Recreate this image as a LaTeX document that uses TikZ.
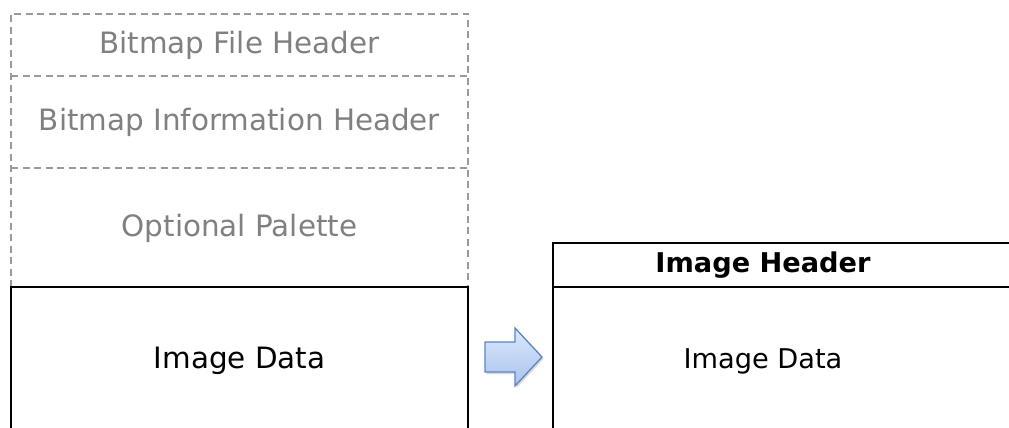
\documentclass[tikz,border=0pt]{standalone}
\usepackage{fontspec}
\setmainfont{DejaVu Sans}
\usetikzlibrary{shadows}
\definecolor{lblgray}{HTML}{808080}
\definecolor{dashgray}{HTML}{9A9A9A}
\definecolor{arrowedge}{HTML}{5A86C3}
\definecolor{arrowtop}{HTML}{DCE8FB}
\definecolor{arrowbot}{HTML}{A8C3EE}
\tikzset{
  optline/.style={draw=dashgray, line width=1.6pt, dash pattern=on 7pt off 4.5pt},
  databox/.style={draw=black, line width=1.6pt},
  lbl/.style={font=\fontsize{29.4}{34}\selectfont},
  rlbl/.style={font=\fontsize{27.2}{32}\selectfont},
  rhead/.style={font=\fontsize{27.2}{32}\selectfont\bfseries},
}
\begin{document}
\begin{tikzpicture}[x=1pt,y=-1pt]
\useasboundingbox (0,0) rectangle (1009,428);
\clip (0,0) rectangle (1009,428);
% optional (dashed) sections of the bitmap layout
\draw[optline] (11,287) -- (11,14) -- (468,14) -- (468,287);
\draw[optline] (11,76) -- (468,76);
\draw[optline] (11,168) -- (468,168);
\node[lbl, text=lblgray] (fh) at (239.5,45) {Bitmap File Header};
\node[lbl, text=lblgray] (ih) at (239.5,122) {Bitmap Information Header};
\node[lbl, text=lblgray] (pal) at (239.5,228) {Optional Palette};
% image data block
\draw[databox] (11,440) -- (11,287) -- (468,287) -- (468,440);
\node[lbl] (d1) at (239.5,361) {Image Data};
% converted layout
\draw[databox] (1015,243) -- (553,243) -- (553,440);
\draw[databox] (553,287) -- (1015,287);
\node[rhead] (hd) at (763,265) {Image Header};
\node[rlbl] (d2) at (763,361) {Image Data};
% conversion arrow
\path[draw=arrowedge, line width=1.3pt, top color=arrowtop, bottom color=arrowbot,
      drop shadow={shadow xshift=1.5pt, shadow yshift=-2pt, opacity=0.3}]
  (485,342) -- (515,342) -- (515,328) -- (542,357) -- (515,386) -- (515,372) -- (485,372) -- cycle;
\end{tikzpicture}
\end{document}
